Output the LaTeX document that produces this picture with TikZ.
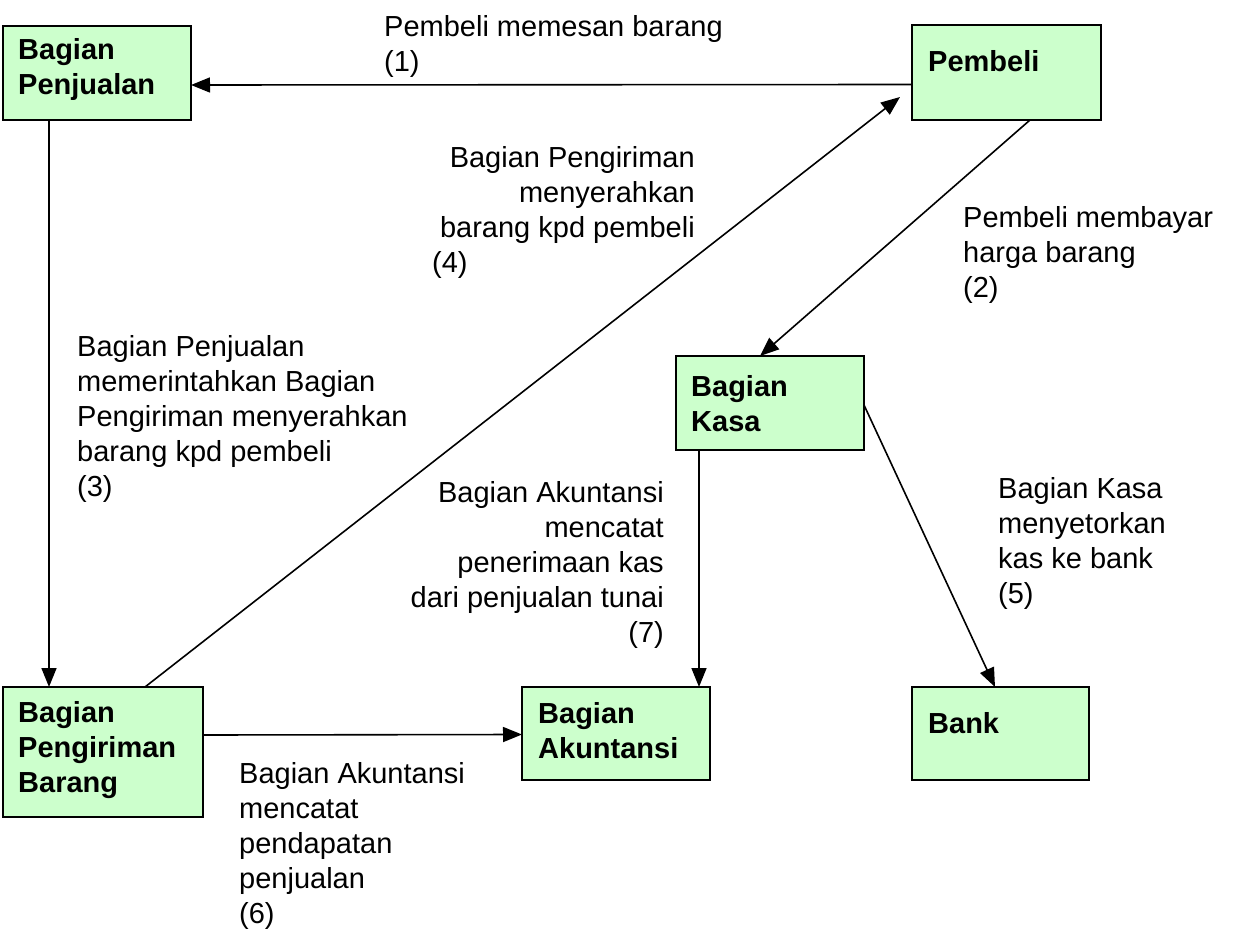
\documentclass[tikz,border=0pt]{standalone}
\usepackage{fontspec}
\setmainfont{Liberation Sans}
\usetikzlibrary{arrows.meta, calc}
\definecolor{boxgreen}{HTML}{CCFFCC}

\begin{document}
\begin{tikzpicture}[x=1pt, y=-1pt,
    font=\fontsize{29}{35}\selectfont,
    unit/.style={draw, line width=2pt, fill=boxgreen, anchor=north west, inner sep=0pt, outer sep=0pt},
    title/.style={anchor=base west, align=left, inner sep=0pt, font=\fontsize{29}{35}\selectfont\bfseries},
    note/.style={anchor=base west, align=left, inner sep=0pt},
    arr/.style={line width=1.6pt, -{Triangle[length=19pt, width=15pt]}}]
    % Frame of the page
    \useasboundingbox (0,0) rectangle (1243,947);

    % Boxes
    \node[unit, minimum width=188, minimum height=94] (penjualan) at (3,26) {};
    \node[unit, minimum width=189, minimum height=95] (pembeli) at (912,25) {};
    \node[unit, minimum width=188, minimum height=94] (kasa) at (676,356) {};
    \node[unit, minimum width=200, minimum height=130] (pengiriman) at (3,687) {};
    \node[unit, minimum width=188, minimum height=93] (akuntansi) at (522,687) {};
    \node[unit, minimum width=177, minimum height=93] (bank) at (912,687) {};

    % Box titles (base = last line)
    \node[title] (penjualan-t) at ([xshift=15, yshift=-69]penjualan.north west) {Bagian\\Penjualan};
    \node[title] (pembeli-t) at ([xshift=16, yshift=-47]pembeli.north west) {Pembeli};
    \node[title] (kasa-t) at ([xshift=15, yshift=-75]kasa.north west) {Bagian\\Kasa};
    \node[title] (pengiriman-t) at ([xshift=15, yshift=-105]pengiriman.north west) {Bagian\\Pengiriman\\Barang};
    \node[title] (akuntansi-t) at ([xshift=16, yshift=-71]akuntansi.north west) {Bagian\\Akuntansi};
    \node[title] (bank-t) at ([xshift=16, yshift=-46]bank.north west) {Bank};

    % Arrows
    \coordinate (tip4) at (900,97);
    \draw[arr] ([yshift=-12]pembeli.west) -- ([yshift=-12]penjualan.east);
    \draw[arr] ([xshift=118]pembeli.south west) -- ([xshift=84]kasa.north west);
    \draw[arr] ([xshift=46]penjualan.south west) -- ([xshift=46]pengiriman.north west);
    \draw[arr] ([xshift=142]pengiriman.north west) -- (tip4);
    \draw[arr] ([yshift=-2]kasa.east) -- ([xshift=83]bank.north west);
    \draw[arr] ([yshift=17]pengiriman.east) -- ([yshift=-1]akuntansi.west);
    \draw[arr] ([xshift=23]kasa.south west) -- ([xshift=177]akuntansi.north west);

    % Texts on the arrows
    \node[note] (n1) at (384,72) {Pembeli memesan barang\\(1)};
    \node[note] (n2) at (963,297) {Pembeli membayar\\harga barang\\(2)};
    \node[note] (n3) at (77,496) {Bagian Penjualan\\memerintahkan Bagian\\Pengiriman menyerahkan\\barang kpd pembeli\\(3)};
    \node[note, anchor=base east, align=right] (n4) at (695,237) {Bagian Pengiriman\\menyerahkan\\barang kpd pembeli};
    \node[note] (n4b) at (432,272) {(4)};
    \node[note] (n5) at (998,603) {Bagian Kasa\\menyetorkan\\kas ke bank\\(5)};
    \node[note] (n6) at (239,923) {Bagian Akuntansi\\mencatat\\pendapatan\\penjualan\\(6)};
    \node[note, anchor=base east, align=right] (n7) at (664,642) {Bagian Akuntansi\\mencatat\\penerimaan kas\\dari penjualan tunai\\(7)};
\end{tikzpicture}
\end{document}
